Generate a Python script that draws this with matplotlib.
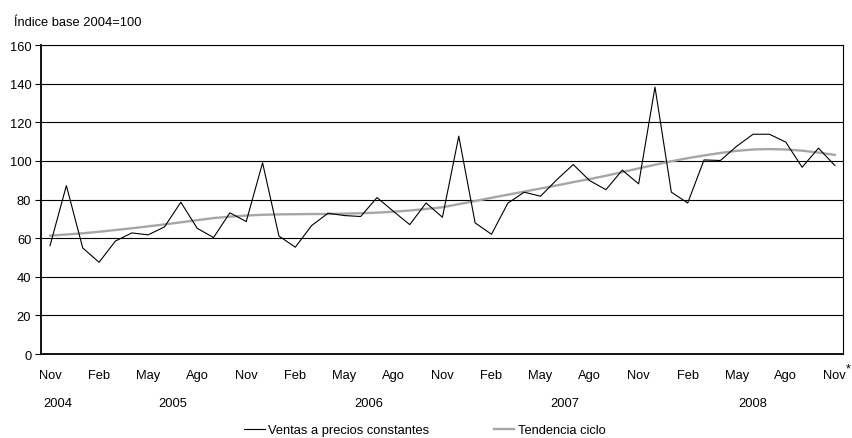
import matplotlib as mpl
import matplotlib.pyplot as plt
import matplotlib.transforms as mtransforms
import numpy as np
import pandas as pd

mpl.rcParams.update(
    {
        "font.family": ["Liberation Sans", "DejaVu Sans"],
        "font.size": 9.3,
    }
)

# Monthly periods Nov 2004 .. Nov 2008
periods = pd.period_range("2004-11", "2008-11", freq="M")

ventas = [
    56.1, 87.2, 54.9, 47.5, 58.5, 62.7, 61.7, 65.8, 78.6, 65.1, 60.3, 73.1,
    68.6, 99.0, 61.1, 55.3, 66.5, 72.9, 71.7, 71.2, 81.0, 73.9, 67.0, 78.2,
    70.8, 112.8, 67.9, 62.0, 78.1, 83.8, 81.7, 90.3, 98.1, 89.8, 85.1, 95.2,
    88.1, 138.2, 83.8, 78.2, 100.5, 100.2, 107.6, 113.8, 113.8, 109.7, 96.7,
    106.6, 97.6,
]
tendencia = [
    61.3, 61.9, 62.5, 63.3, 64.2, 65.1, 66.1, 67.1, 68.2, 69.3, 70.4, 71.1,
    71.7, 72.1, 72.3, 72.4, 72.5, 72.5, 72.7, 72.9, 73.2, 73.7, 74.3, 75.1,
    76.0, 77.6, 79.2, 80.9, 82.5, 84.1, 85.7, 87.3, 89.0, 90.6, 92.3, 94.2,
    96.1, 98.0, 99.8, 101.4, 102.8, 104.1, 105.2, 105.9, 106.1, 105.9, 105.3,
    104.3, 103.1,
]
month_names = {11: "Nov", 2: "Feb", 5: "May", 8: "Ago"}

x = np.arange(len(periods))

fig = plt.figure(figsize=(8.53, 4.39), dpi=100)
ax = fig.add_axes([0.0481, 0.1913, 0.9402, 0.7039])

ax.plot(x, tendencia, color="#a6a6a6", lw=1.7, label="Tendencia ciclo", zorder=3)
ax.plot(x, ventas, color="black", lw=0.8, label="Ventas a precios constantes", zorder=4)

ax.set_xlim(-0.55, len(x) - 0.5)
ax.set_ylim(0, 160)
ax.set_yticks(np.arange(0, 161, 20))
ax.yaxis.grid(True, color="black", lw=0.8)
ax.set_axisbelow(True)
ax.tick_params(axis="y", length=4, width=0.8, pad=3, labelsize=9.3)

# month labels every third month
tick_idx = [i for i, p in enumerate(periods) if p.month in month_names]
ax.set_xticks(tick_idx)
ax.set_xticklabels([month_names[periods[i].month] for i in tick_idx])
ax.tick_params(axis="x", length=0, pad=11, labelsize=9.3)
# asterisk marking the last (provisional) month
ax.annotate("*", xy=(tick_idx[-1], 0), xycoords="data", xytext=(8, -6),
            textcoords="offset points", ha="left", va="top", fontsize=9.3,
            annotation_clip=False)

# year labels centred under each year's months
trans = mtransforms.blended_transform_factory(ax.transData, ax.transAxes)
years = np.array([p.year for p in periods])
for yr in np.unique(years):
    pos = x[years == yr]
    ax.text(pos.mean(), -0.16, str(yr), transform=trans, ha="center", va="center",
            fontsize=9.3)

for side in ["left", "bottom"]:
    ax.spines[side].set_linewidth(1.3)
for side in ["top", "right"]:
    ax.spines[side].set_linewidth(0.8)

fig.text(0.0164, 0.9476, "Índice base 2004=100", ha="left", va="center", fontsize=9.3)

handles, labels = ax.get_legend_handles_labels()
fig.legend(handles[::-1], labels[::-1], loc="center", bbox_to_anchor=(0.498, 0.018),
           ncol=2, frameon=False, handlelength=1.6, handletextpad=0.25,
           columnspacing=5.0, fontsize=9.3)

fig.savefig("out.png", dpi=100)
